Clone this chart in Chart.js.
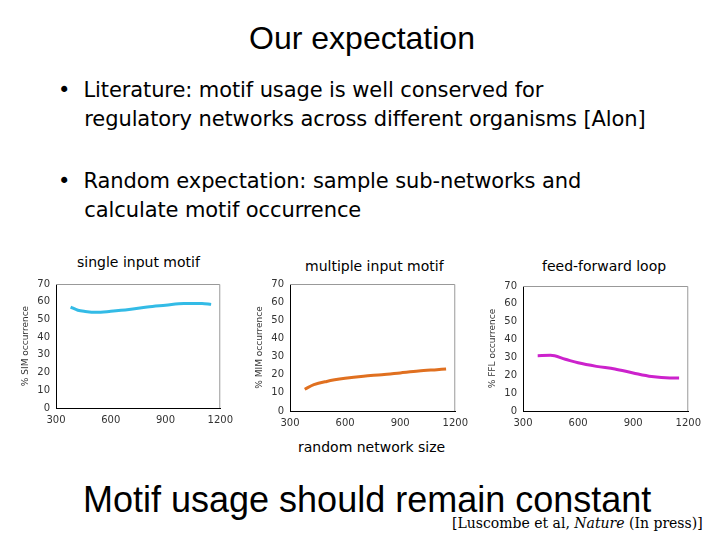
<!DOCTYPE html>
<html><head><meta charset="utf-8">
<script src="https://cdn.jsdelivr.net/npm/chart.js@4"></script>
<style>
body{margin:0;width:720px;height:540px;background:#fff;position:relative;overflow:hidden;font-family:"DejaVu Sans",sans-serif}
.t{position:absolute;white-space:nowrap;color:#000}
canvas{position:absolute}
</style></head><body>
<div class="t" style="left:0;width:724px;text-align:center;top:20px;font:32px 'Liberation Sans',Arial">Our expectation</div>
<div class="t" style="left:58px;top:76px;font:21px 'DejaVu Sans';letter-spacing:-0.1px;line-height:29px">•&nbsp;&nbsp;Literature: motif usage is well conserved for<br>&nbsp;&nbsp;&nbsp;&nbsp;regulatory networks across different organisms [Alon]</div>
<div class="t" style="left:58px;top:167px;font:21px 'DejaVu Sans';letter-spacing:-0.1px;line-height:29px">•&nbsp;&nbsp;Random expectation: sample sub-networks and<br>&nbsp;&nbsp;&nbsp;&nbsp;calculate motif occurrence</div>
<div class="t" style="left:77px;top:254px;font:14px 'DejaVu Sans';letter-spacing:0px">single input motif</div>
<div class="t" style="left:305px;top:258px;font:14px 'DejaVu Sans';letter-spacing:0px">multiple input motif</div>
<div class="t" style="left:542px;top:258px;font:14px 'DejaVu Sans';letter-spacing:0px">feed-forward loop</div>
<div class="t" style="left:298px;top:439px;font:14px 'DejaVu Sans';letter-spacing:0px">random network size</div>
<div class="t" style="left:83px;top:479px;font:36px 'Liberation Sans',Arial">Motif usage should remain constant</div>
<div class="t" style="left:452px;top:515px;font:14px 'DejaVu Serif'">[Luscombe et al, <i>Nature</i> (In press)]</div>
<canvas id="c1" style="left:20px;top:276px;width:215px;height:154px" width="215" height="154"></canvas>
<canvas id="c2" style="left:254px;top:276px;width:216px;height:157px" width="216" height="157"></canvas>
<canvas id="c3" style="left:487px;top:278px;width:216px;height:155px" width="216" height="155"></canvas>
<script>
const yTicks=[0,10,20,30,40,50,60,70];
const xTicks=[300,600,900,1200];
const simX=[380,420,460,520,600,700,800,900,1000,1100,1150];
const simY=[57,55.2,54.5,54,54.6,55.6,57,58,59,59,58.5];
const mimX=[380,430,500,600,700,800,900,1000,1100,1150];
const mimY=[12,14.5,16.3,18,19.2,20,21,22,22.8,23.2];
const fflX=[380,450,530,600,700,800,900,1000,1100,1150];
const fflY=[31,31.2,29,27,25,23.5,21.3,19.3,18.5,18.5];
const border={id:'bd',afterDraw(c){const a=c.chartArea,g=c.ctx;g.save();g.strokeStyle='#999';g.lineWidth=1;g.beginPath();g.moveTo(a.left,a.top+0.5);g.lineTo(a.right-0.5,a.top+0.5);g.lineTo(a.right-0.5,a.bottom);g.stroke();g.restore();}};
function mk(id,xs,ys,col,title){
 new Chart(document.getElementById(id),{type:'line',
  data:{datasets:[{data:xs.map((x,i)=>({x:x,y:ys[i]})),borderColor:col,borderWidth:3,pointRadius:0,tension:0.4,cubicInterpolationMode:'monotone'}]},
  options:{responsive:false,animation:false,events:[],layout:{padding:{top:0,right:12}},
   plugins:{legend:{display:false},tooltip:{enabled:false}},
   scales:{
    x:{type:'linear',min:300,max:1200,afterBuildTicks(s){s.ticks=xTicks.map(v=>({value:v}));},
       grid:{display:false,drawTicks:true,tickLength:4,color:'#000'},border:{color:'#000'},
       ticks:{color:'#333',font:{size:10,family:'DejaVu Sans'},maxRotation:0,padding:2,callback:v=>String(v)},afterFit(s){s.height=22;}},
    y:{min:0,max:70,afterBuildTicks(s){s.ticks=yTicks.map(v=>({value:v}));},
       grid:{display:false,tickLength:4},border:{color:'#000'},
       ticks:{color:'#333',font:{size:10,family:'DejaVu Sans'},padding:2,callback:v=>String(v)},
       title:{display:true,text:title,color:'#333',font:{size:9,family:'DejaVu Sans'},padding:0},
       afterFit(s){s.width=36;}}
   }},plugins:[border]});
}
mk('c1',simX,simY,'#33bbe6','% SIM occurrence');
mk('c2',mimX,mimY,'#e07020','% MIM occurrence');
mk('c3',fflX,fflY,'#cc22cc','% FFL occurrence');
</script></body></html>
